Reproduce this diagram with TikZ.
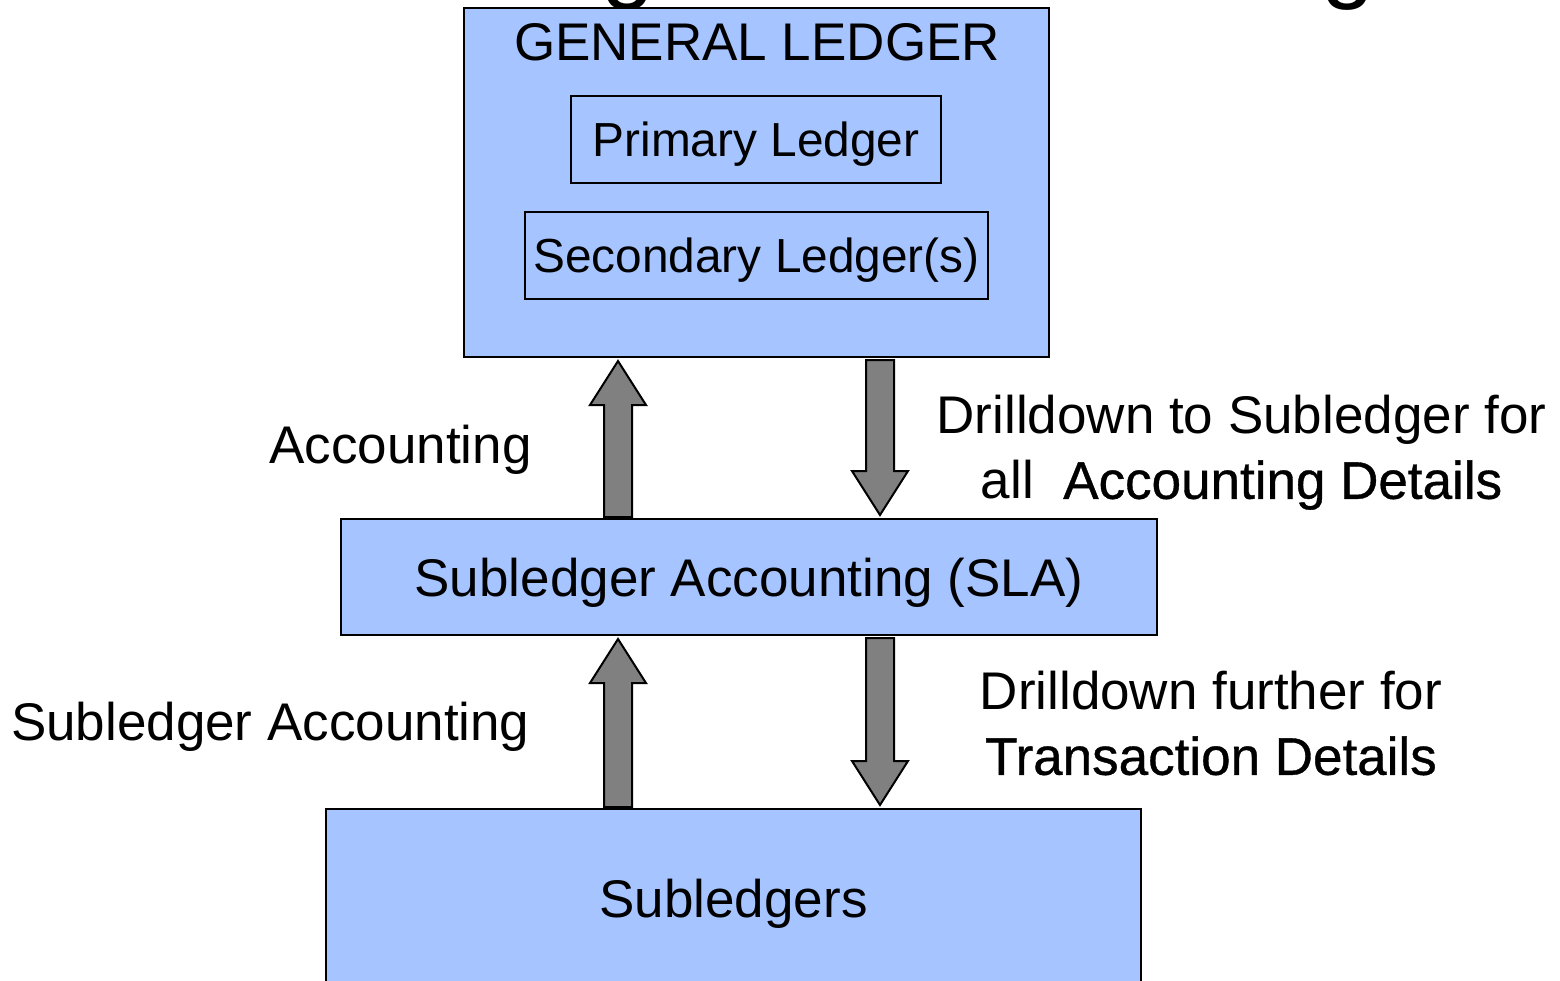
\documentclass[tikz,border=0pt]{standalone}
\usepackage{fontspec}
\setmainfont{Liberation Sans}
\newfontfamily\heavyfont[FakeBold=0.7]{Liberation Sans}
\usetikzlibrary{calc}

\definecolor{ledgerblue}{RGB}{166,196,255}
\definecolor{arrowgray}{RGB}{128,128,128}

\begin{document}
\begin{tikzpicture}[
  x=0.5pt, y=-0.5pt,
  box/.style={draw, line width=1pt, fill=ledgerblue, inner sep=0pt, text height=19pt, text depth=0pt},
  subbox/.style={draw, line width=0.75pt, inner sep=0pt, text height=17.1pt, text depth=0pt},
  big/.style={font=\fontsize{26.5}{32.5}\selectfont},
  small/.style={font=\fontsize{23.9}{29}\selectfont},
  note/.style={big, inner sep=0pt, align=center},
  fat/.style={draw, line width=1pt, fill=arrowgray,
    to path={let \p1=(\tikztostart), \p2=(\tikztotarget), \n1={sign(\y2-\y1)} in
      (\x1-7pt,\y1) -- (\x1-7pt,\y2-\n1*22pt) -- (\x1-14pt,\y2-\n1*22pt) -- (\x1,\y2)
      -- (\x1+14pt,\y2-\n1*22pt) -- (\x1+7pt,\y2-\n1*22pt) -- (\x1+7pt,\y1) -- cycle}}
]
\useasboundingbox (0,0) rectangle (1560,981);

% title, cut off by the page
\node[font=\fontsize{48}{56}\selectfont, anchor=base, inner sep=0pt] (titleg1) at (628,-10) {g};
\node[font=\fontsize{48}{56}\selectfont, anchor=base, inner sep=0pt] (titleg2) at (1348,-10) {g};

% ledgers
\node[box, minimum width=292.5pt, minimum height=174.5pt] (gl) at (756.5,182.5) {};
\node[big, anchor=base, inner sep=0pt] (gltitle) at (757,60) {GENERAL LEDGER};
\node[subbox, small, minimum width=185pt, minimum height=43.5pt] (primary) at (756,139.5) {Primary Ledger};
\node[subbox, small, minimum width=231.5pt, minimum height=43.5pt] (secondary) at (756.5,255.5) {Secondary Ledger(s)};
\node[box, big, minimum width=408pt, minimum height=58pt] (sla) at (749,577) {Subledger Accounting (SLA)};
\node[box, big, minimum width=407.5pt, minimum height=89pt] (subledgers) at (733.5,898) {Subledgers};

% arrows
\coordinate (upx) at (618,0);
\coordinate (downx) at (880,0);
\draw[fat] ([yshift=0.5pt]upx |- sla.north) to ([yshift=-1.5pt]upx |- gl.south);
\draw[fat] ([yshift=-1pt]downx |- gl.south) to ([yshift=1.5pt]downx |- sla.north);
\draw[fat] ([yshift=0.5pt]upx |- subledgers.north) to ([yshift=-1.5pt]upx |- sla.south);
\draw[fat] ([yshift=-1pt]downx |- sla.south) to ([yshift=1.5pt]downx |- subledgers.north);

% labels
\node[big, anchor=base east, inner sep=0pt] (acclabel) at (532,463) {Accounting};
\node[big, anchor=base east, inner sep=0pt] (slalabel) at (530,740) {Subledger Accounting};
\node[note, anchor=north] (drill1) at (1241.5,395) {Drilldown to Subledger for\\all\ \ {\heavyfont Accounting Details}};
\node[note, anchor=north] (drill2) at (1211,671) {Drilldown further for\\{\heavyfont Transaction Details}};
\end{tikzpicture}
\end{document}
